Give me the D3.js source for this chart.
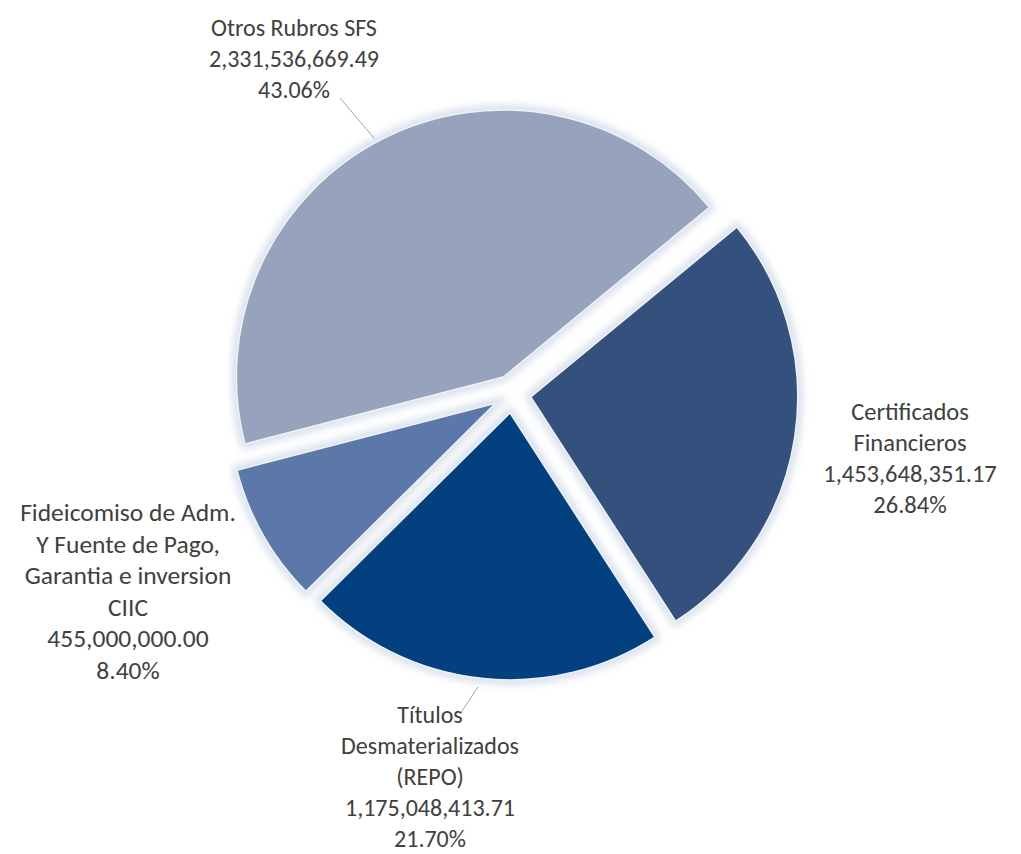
<!DOCTYPE html>
<html>
<head>
<meta charset="utf-8">
<script src="https://cdn.jsdelivr.net/npm/d3@7"></script>
<style>
  html, body { margin: 0; padding: 0; background: #ffffff; }
  svg { display: block; }
  text { font-family: Carlito, Lato, "Open Sans", sans-serif; fill: #404040; }
</style>
</head>
<body>
<svg id="chart" width="1021" height="854"></svg>
<script>
// Portfolio composition (amounts in pesos)
const categories = [
  "Certificados Financieros",
  "Titulos Desmaterializados (REPO)",
  "Fideicomiso de Adm. Y Fuente de Pago, Garantia e inversion CIIC",
  "Otros Rubros SFS"
];
const amounts = [1453648351.17, 1175048413.71, 455000000.00, 2331536669.49];
const labelLines = [
  ["Certificados", "Financieros"],
  ["Títulos", "Desmaterializados", "(REPO)"],
  ["Fideicomiso de Adm.", "Y Fuente de Pago,", "Garantia e inversion", "CIIC"],
  ["Otros Rubros SFS"]
];
const sliceColors = ["#34517d", "#03407f", "#5b78a8", "#97a3bc"];

// Layout
const W = 1021, H = 854;
const cx = 512, cy = 394, R = 267, explode = 19;
const startDeg = 50.5;
const labelLayout = [
  { x: 910, y: 420, size: 24.5, gap: 31 },
  { x: 430, y: 723, size: 24, gap: 31 },
  { x: 128, y: 521, size: 25.5, gap: 31.5 },
  { x: 294, y: 36, size: 24, gap: 31 }
];
const leaders = [
  null,
  [[478, 687], [460, 714]],
  null,
  [[340, 98], [374, 138]]
];

const svg = d3.select("#chart");
const defs = svg.append("defs");
const glow = defs.append("filter").attr("id", "glow")
  .attr("x", "-20%").attr("y", "-20%").attr("width", "140%").attr("height", "140%");
glow.append("feGaussianBlur").attr("stdDeviation", 4);

const total = d3.sum(amounts);
const fmtAmt = d3.format(",.2f");
const fmtPct = d3.format(".2%");

const pie = d3.pie().sort(null).value(d => d)
  .startAngle(startDeg * Math.PI / 180)
  .endAngle(startDeg * Math.PI / 180 + 2 * Math.PI);
const arcs = pie(amounts);
const arc = d3.arc().innerRadius(0).outerRadius(R);

const offset = d => {
  const mid = (d.startAngle + d.endAngle) / 2;
  return [Math.sin(mid) * explode, -Math.cos(mid) * explode];
};

const g = svg.append("g").attr("transform", `translate(${cx},${cy})`);

// soft light halo behind every slice
g.selectAll("path.halo").data(arcs).join("path")
  .attr("class", "halo")
  .attr("transform", d => `translate(${offset(d)})`)
  .attr("d", arc)
  .attr("fill", "none")
  .attr("stroke", "#cfd8e6")
  .attr("stroke-width", 8)
  .attr("filter", "url(#glow)");

g.selectAll("path.slice").data(arcs).join("path")
  .attr("class", "slice")
  .attr("transform", d => `translate(${offset(d)})`)
  .attr("d", arc)
  .attr("fill", (d, i) => sliceColors[i])
  .attr("stroke", "#eef2f7")
  .attr("stroke-width", 1.5);

// leader lines
leaders.forEach(l => {
  if (!l) return;
  svg.append("line")
    .attr("x1", l[0][0]).attr("y1", l[0][1])
    .attr("x2", l[1][0]).attr("y2", l[1][1])
    .attr("stroke", "#a6a6a6").attr("stroke-width", 1);
});

// labels: name lines, amount, percentage
arcs.forEach((d, i) => {
  const lay = labelLayout[i];
  const lines = labelLines[i].concat([fmtAmt(amounts[i]), fmtPct(amounts[i] / total)]);
  const t = svg.append("text")
    .attr("text-anchor", "middle")
    .attr("font-size", lay.size);
  lines.forEach((s, k) => {
    t.append("tspan")
      .attr("x", lay.x)
      .attr("y", lay.y + k * lay.gap)
      .text(s);
  });
});
</script>
</body>
</html>
